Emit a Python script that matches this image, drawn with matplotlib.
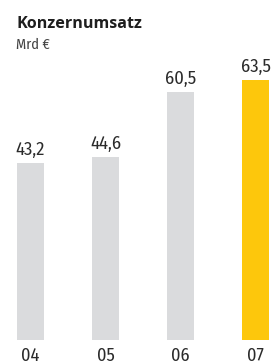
import matplotlib.pyplot as plt

years = ['04', '05', '06', '07']
umsatz = [43.2, 44.6, 60.5, 63.5]
labels = ['43,2', '44,6', '60,5', '63,5']
colors = ['#dadbdd', '#dadbdd', '#dadbdd', '#fdc70c']

cond = ['Fira Sans Condensed', 'Open Sans', 'DejaVu Sans']
plt.rcParams['font.family'] = ['Open Sans', 'DejaVu Sans']

fig = plt.figure(figsize=(2.78, 3.63), dpi=100)
ax = fig.add_axes([0, 23 / 363, 1, 328 / 363])

x = range(len(years))
ax.bar(x, umsatz, width=0.36, color=colors)
for i, v in enumerate(umsatz):
    ax.annotate(labels[i], (i, v), xytext=(0, 5.8), textcoords='offset points',
                ha='center', va='baseline', fontsize=13.3, color='#2b2b2b', family=cond)
    ax.annotate(years[i], (i, 0), xytext=(0, -15.1), textcoords='offset points',
                ha='center', va='baseline', fontsize=13.1, color='#2b2b2b', family=cond,
                annotation_clip=False)

ax.set_xlim(-30.5 / 75, 247.5 / 75)
ax.set_ylim(0, 80)
ax.set_xticks([])
ax.set_yticks([])
for s in ax.spines.values():
    s.set_visible(False)

fig.text(16 / 278, 1 - 28.3 / 363, 'Konzernumsatz', fontsize=11.6, fontweight='bold',
         color='#1e1e1e', va='baseline', ha='left')
fig.text(16 / 278, 1 - 49 / 363, 'Mrd €', fontsize=10.4, color='#444444',
         va='baseline', ha='left', family=cond)

fig.savefig('out.png', dpi=100)
